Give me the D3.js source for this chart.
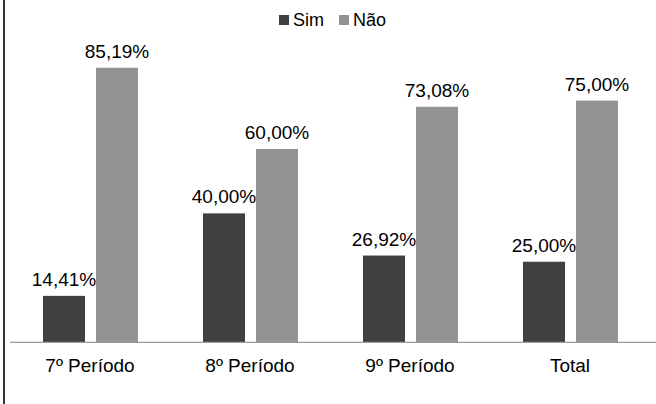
<!DOCTYPE html>
<html>
<head>
<meta charset="utf-8">
<script src="https://cdn.jsdelivr.net/npm/d3@7"></script>
<style>
  html, body { margin: 0; padding: 0; background: #fff; }
  svg { display: block; font-family: "Liberation Sans", Arial, sans-serif; }
</style>
</head>
<body>
<svg id="chart" width="656" height="404"></svg>
<script>
const categories = ["7º Período", "8º Período", "9º Período", "Total"];
const seriesNames = ["Sim", "Não"];
const simValues = [14.41, 40.00, 26.92, 25.00];
const naoValues = [85.19, 60.00, 73.08, 75.00];
const seriesColors = ["#404040", "#939393"];

const W = 656, H = 404;
const svg = d3.select("#chart");
svg.append("rect").attr("width", W).attr("height", H).attr("fill", "#fff");

const baseline = 342.3;
const x0 = d3.scaleBand().domain(categories).range([10, 650]).padding(0);
const x1 = d3.scaleBand().domain(seriesNames).range([33, 128]).paddingInner(11 / 53).paddingOuter(0);
const y = d3.scaleLinear().domain([0, 100]).range([baseline, 20]);
const color = d3.scaleOrdinal().domain(seriesNames).range(seriesColors);

const fmt = v => v.toFixed(2).replace(".", ",") + "%";

const data = categories.map((c, i) => ({
  cat: c,
  vals: [{ s: "Sim", v: simValues[i] }, { s: "Não", v: naoValues[i] }]
}));

const groups = svg.selectAll("g.grp").data(data).join("g")
  .attr("class", "grp")
  .attr("transform", d => `translate(${x0(d.cat)},0)`);

groups.selectAll("rect").data(d => d.vals).join("rect")
  .attr("x", d => x1(d.s))
  .attr("width", x1.bandwidth())
  .attr("y", d => y(d.v))
  .attr("height", d => baseline - y(d.v))
  .attr("fill", d => color(d.s));

groups.selectAll("text.val").data(d => d.vals).join("text")
  .attr("class", "val")
  .attr("x", d => x1(d.s) + x1.bandwidth() / 2)
  .attr("y", d => y(d.v) - 10)
  .attr("text-anchor", "middle")
  .attr("font-size", 19)
  .attr("fill", "#000")
  .text(d => fmt(d.v));

// x axis
const xAxis = d3.axisBottom(x0).tickSize(0).tickPadding(0);
const ax = svg.append("g").attr("transform", `translate(0,${baseline})`).call(xAxis);
ax.select(".domain").remove();
ax.selectAll("text")
  .attr("font-size", 19)
  .attr("fill", "#000")
  .attr("font-family", "Liberation Sans, Arial, sans-serif")
  .attr("dy", null)
  .attr("y", 30);
svg.append("line")
  .attr("x1", 10).attr("x2", 656)
  .attr("y1", baseline).attr("y2", baseline)
  .attr("stroke", "#999").attr("stroke-width", 1.3);

// left border
svg.append("line")
  .attr("x1", 4).attr("x2", 4).attr("y1", 0).attr("y2", H)
  .attr("stroke", "#333").attr("stroke-width", 2);

// legend
const legendX = [279, 339];
const leg = svg.append("g");
seriesNames.forEach((s, i) => {
  leg.append("rect").attr("x", legendX[i]).attr("y", 15).attr("width", 10).attr("height", 10)
    .attr("fill", color(s));
  leg.append("text").attr("x", legendX[i] + 14).attr("y", 25.5)
    .attr("font-size", 18).attr("fill", "#000").text(s);
});
</script>
</body>
</html>
